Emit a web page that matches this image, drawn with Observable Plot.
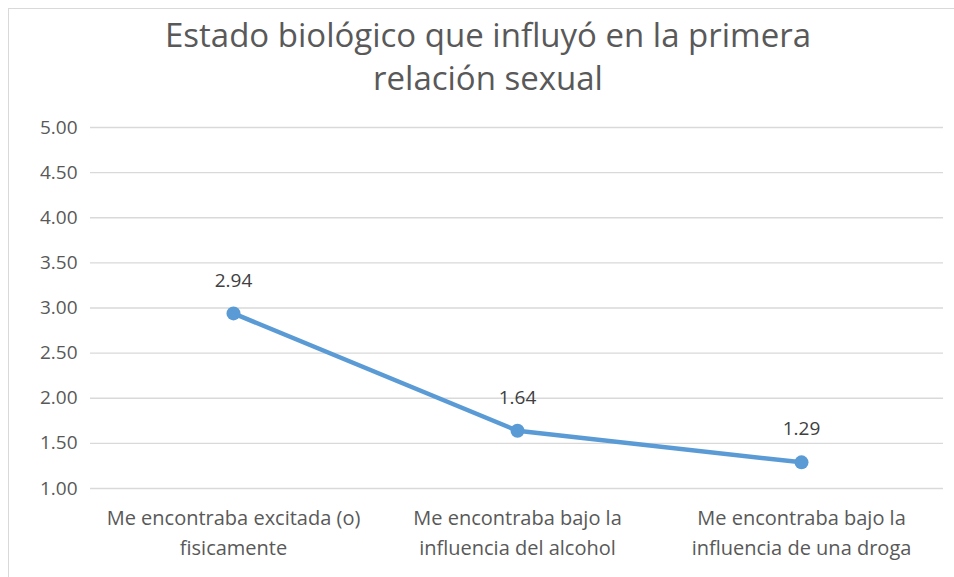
<!DOCTYPE html>
<html><head><meta charset="utf-8">
<script src="https://cdn.jsdelivr.net/npm/d3@7"></script>
<script src="https://cdn.jsdelivr.net/npm/@observablehq/plot@0.6"></script>
<style>
body{margin:0;background:#fff;font-family:"Open Sans",sans-serif;}
#wrap{position:relative;width:954px;height:577px;overflow:hidden;}
#frame{position:absolute;left:8px;top:8px;width:960px;height:580px;border:1px solid #d9d9d9;box-sizing:border-box;}
#title{position:absolute;left:0;top:13px;width:976px;text-align:center;font-size:33px;line-height:43px;color:#595959;}
#chart{position:absolute;left:0;top:110px;}
</style></head><body>
<div id="wrap"><div id="frame"></div>
<div id="title">Estado biológico que influyó en la primera<br>relación sexual</div>
<div id="chart"></div></div>
<script>
const categories = ["Me encontraba excitada (o)\nfisicamente","Me encontraba bajo la\ninfluencia del alcohol","Me encontraba bajo la\ninfluencia de una droga"];
const values = [2.94, 1.64, 1.29];
const yTicks = [1,1.5,2,2.5,3,3.5,4,4.5,5];
const data = categories.map((c,i)=>({c, v: values[i]}));
const color = "#5b9bd5";
const plot = Plot.plot({
  width: 954, height: 467,
  marginLeft: 90, marginRight: 11, marginTop: 17, marginBottom: 89,
  style: {fontFamily: '"Open Sans", sans-serif', color: "#595959", background: "transparent"},
  x: {type: "band", domain: categories, padding: 0},
  y: {domain: [1,5]},
  marks: [
    Plot.gridY(yTicks, {stroke: "#d9d9d9", strokeOpacity: 1, strokeWidth: 1.3}),
    Plot.axisY(yTicks, {tickSize: 0, tickPadding: 13, tickFormat: d=>d.toFixed(2), fontSize: 19, label: null}),
    Plot.axisX({tickSize: 0, tickPadding: 15, fontSize: 20, lineHeight: 1.5, label: null}),
    Plot.line(data, {x: "c", y: "v", stroke: color, strokeWidth: 4.5}),
    Plot.dot(data, {x: "c", y: "v", fill: color, r: 7}),
    Plot.text(data, {x: "c", y: "v", text: d=>d.v.toFixed(2), dy: -33, fontSize: 19, fill: "#404040"})
  ]
});
document.getElementById("chart").appendChild(plot);
</script></body></html>
